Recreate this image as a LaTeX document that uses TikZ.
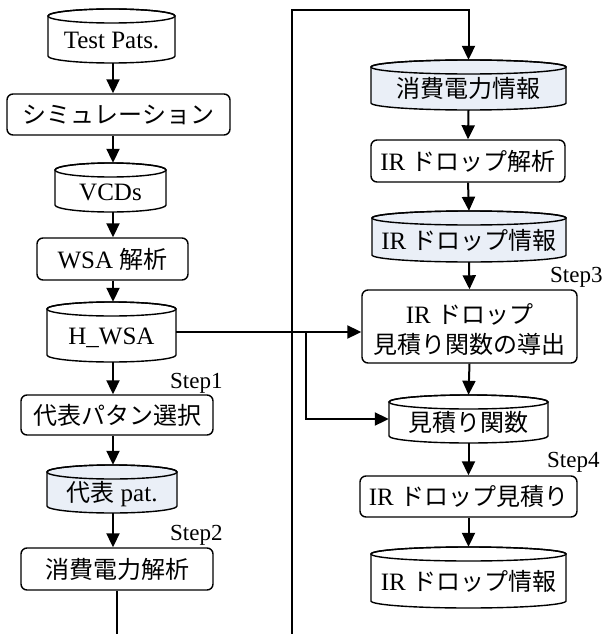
\documentclass[tikz,border=0pt]{standalone}
\usepackage{fontspec}
\setmainfont{Liberation Serif}
\newfontfamily\jp{Noto Sans CJK JP}
\usetikzlibrary{arrows.meta}
\definecolor{dbfill}{RGB}{234,239,247}
\newcommand{\J}[1]{{\jp\fontsize{24}{32}\selectfont #1}}
\newcommand{\ry}{7}
\tikzset{
 boxst/.style={draw, line width=1.4pt, rounded corners=6pt, inner sep=0pt, align=center,
   font=\fontsize{25}{32}\selectfont},
 txt/.style={font=\fontsize{25}{30}\selectfont, text height=18pt, text depth=5pt, inner sep=0pt},
 dbline/.style={draw=black, line width=1.4pt},
 arr/.style={line width=2pt, -{Triangle[length=14pt,width=13pt]}},
 ln/.style={line width=2pt},
 steplbl/.style={font=\fontsize{23}{28}\selectfont, anchor=base west, inner sep=0pt},
}
% name, cx, top, bottom, half width, fill, text
\newcommand{\db}[7]{%
  \filldraw[dbline, fill=#6] ({#2-#5},{#3+\ry}) -- ({#2-#5},{#4-\ry})
     arc[start angle=180,end angle=360,x radius=#5pt,y radius=\ry pt]
     -- ({#2+#5},{#3+\ry})
     arc[start angle=0,end angle=180,x radius=#5pt,y radius=\ry pt] -- cycle;
  \draw[dbline] ({#2},{#3+\ry}) ellipse[x radius=#5pt,y radius=\ry pt];
  \node[inner sep=0pt, minimum width={2*#5pt}, minimum height={(#4-#3)*1pt}] (#1) at ({#2},{(#3+#4)/2}) {};
  \node[txt] (#1-t) at ({#2},{(#3+#4)/2+6}) {#7};
}
\begin{document}
\begin{tikzpicture}[x=1pt,y=-1pt]
\useasboundingbox (0,0) rectangle (606,634);

% ---------- left column ----------
\db{tp}{111.5}{9}{63}{63.5}{white}{Test Pats.}
\node[boxst, minimum width=223pt, minimum height=41pt] (sim) at (118.5,114.5) {\J{シミュレーション}};
\db{vcd}{110.5}{163}{212}{55.5}{white}{VCDs}
\node[boxst, minimum width=151pt, minimum height=42pt] (wsa) at (112.5,259) {WSA \J{解析}};
\db{hwsa}{111.5}{302}{362}{64.5}{white}{H\_WSA}
\node[steplbl] (s1) at (170,388) {Step1};
\node[boxst, minimum width=192pt, minimum height=40pt] (sel) at (117,415) {\J{代表パタン選択}};
\db{rep}{112}{465}{513}{65}{dbfill}{\J{代表} pat.}
\node[steplbl] (s2) at (170,540) {Step2};
\node[boxst, minimum width=192pt, minimum height=42pt] (pw) at (117,569) {\J{消費電力解析}};

% ---------- right column ----------
\db{pinfo}{468.5}{60}{110}{97.5}{dbfill}{\J{消費電力情報}}
\node[boxst, minimum width=194pt, minimum height=42pt] (irana) at (468,161) {IR \J{ドロップ解析}};
\db{irinfo}{469}{211}{262}{97}{dbfill}{IR \J{ドロップ情報}}
\node[steplbl] (s3) at (550,282) {Step3};
\node[boxst, minimum width=215pt, minimum height=73pt] (deriv) at (469.5,326.5) {};
\node[font=\fontsize{25}{32}\selectfont, align=center, inner sep=0pt] (deriv-t) at ([yshift=-3pt]deriv.center) {IR \J{ドロップ}\\[-2pt]\J{見積り関数の導出}};
\db{est}{468.5}{395}{443}{79.5}{white}{\J{見積り関数}}
\node[steplbl] (s4) at (547,467) {Step4};
\node[boxst, minimum width=217pt, minimum height=41pt] (irest) at (468.5,496.5) {IR \J{ドロップ見積り}};
\db{irout}{468.5}{547}{608}{97.5}{white}{IR \J{ドロップ情報}}

% ---------- connectors ----------
\coordinate (colL) at (113,0);
\draw[arr] (tp.south -| colL) -- (sim.north -| colL);
\draw[arr] (sim.south -| colL) -- (vcd.north -| colL);
\draw[arr] (vcd.south -| colL) -- (wsa.north -| colL);
\draw[arr] (wsa.south -| colL) -- (hwsa.north -| colL);
\draw[arr] (hwsa.south -| colL) -- (sel.north -| colL);
\draw[arr] (sel.south -| colL) -- (rep.north -| colL);
\draw[arr] (rep.south -| colL) -- (pw.north -| colL);
\coordinate (botL) at (117,634);
\draw[ln] (pw.south) -- (botL);

\coordinate (botR) at (292,634);
\coordinate (topR) at (292,10);
\draw[arr] (botR) -- (topR) -| (pinfo.north);

\draw[arr] (pinfo.south) -- (irana.north);
\draw[arr] (irana.south) -- (irinfo.north);
\draw[arr] (irinfo.south) -- (deriv.north);
\draw[arr] (deriv.south) -- (est.north);
\draw[arr] (est.south) -- (irest.north);
\draw[arr] (irest.south) -- (irout.north);

\draw[arr] (hwsa.east) -- (hwsa.east -| deriv.west);
\coordinate (br) at (306,332);
\draw[arr] (br) |- (est.west);
\end{tikzpicture}
\end{document}
